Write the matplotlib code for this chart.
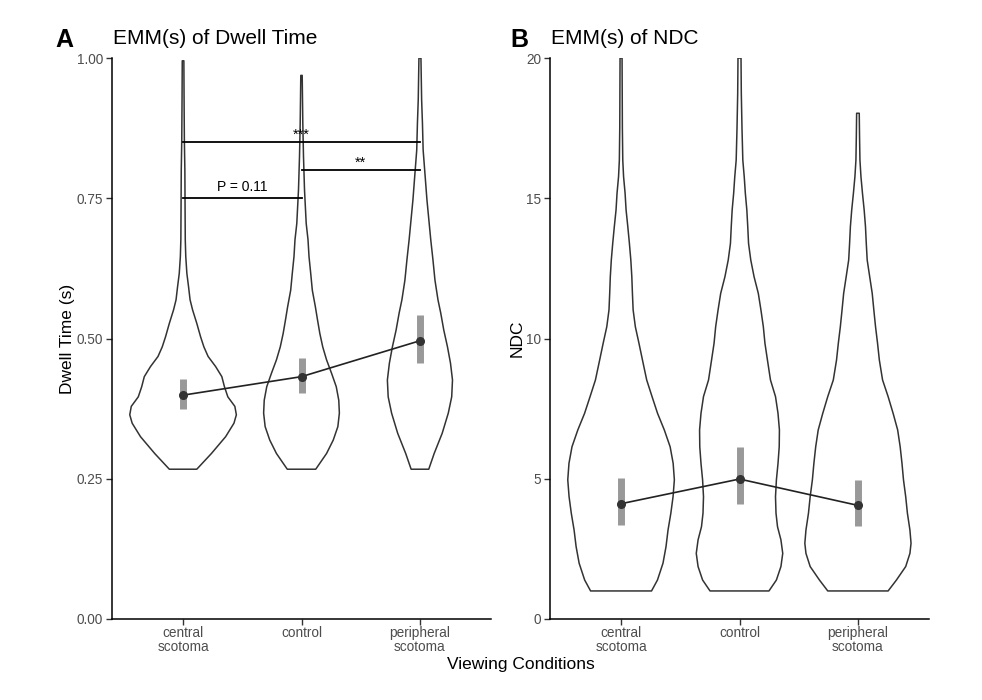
import matplotlib
matplotlib.use("Agg")
import matplotlib.pyplot as plt
import numpy as np

plt.rcParams['font.family'] = ['Liberation Sans', 'DejaVu Sans']

# ---------------- data ----------------
categories = ["central\nscotoma", "control", "peripheral\nscotoma"]

# Panel A: Dwell time violin profiles (value levels, relative density)
dwell_central_y = [0.267, 0.295, 0.325, 0.349, 0.364, 0.379, 0.396, 0.414, 0.432, 0.450,
                   0.468, 0.485, 0.503, 0.527, 0.551, 0.569, 0.592, 0.616, 0.646, 0.676,
                   0.735, 0.800, 0.854, 0.930, 0.995]
dwell_central_d = [13.7, 28.3, 42.5, 50.8, 53.2, 51.7, 44.7, 41.3, 38.7, 32.5,
                   25.0, 20.8, 17.5, 13.7, 9.5, 7.0, 5.5, 3.8, 2.7, 2.2,
                   2.0, 1.8, 1.3, 1.0, 0.8]
dwell_control_y = [0.267, 0.295, 0.319, 0.343, 0.367, 0.390, 0.414, 0.438, 0.462, 0.485,
                   0.509, 0.533, 0.557, 0.586, 0.616, 0.646, 0.676, 0.705, 0.765, 0.824,
                   0.884, 0.969]
dwell_control_d = [14.2, 25.0, 31.7, 36.3, 37.8, 37.2, 34.7, 30.0, 25.0, 21.2,
                   18.3, 16.0, 13.8, 10.8, 9.2, 7.5, 6.5, 4.7, 3.0, 2.0,
                   1.3, 0.7]
dwell_periph_y = [0.267, 0.295, 0.331, 0.367, 0.396, 0.426, 0.456, 0.485, 0.515, 0.545,
                  0.569, 0.604, 0.640, 0.676, 0.747, 0.794, 0.836, 0.884, 0.925, 1.000]
dwell_periph_d = [8.8, 14.2, 22.2, 28.3, 31.7, 32.5, 30.5, 27.5, 23.8, 20.8,
                  18.0, 15.0, 13.0, 10.8, 7.0, 5.0, 3.2, 2.5, 1.7, 1.0]

dwell_emm = [0.399, 0.432, 0.496]
dwell_lo = [0.375, 0.402, 0.457]
dwell_hi = [0.428, 0.465, 0.542]

# significance annotations (group i, group j, y, label)
sig_pairs = [(0, 1, 0.75, "P = 0.11"), (0, 2, 0.85, "***"), (1, 2, 0.80, "**")]

# Panel B: NDC violin profiles
ndc_central_y = [1.0, 1.39, 1.99, 2.58, 3.17, 3.77, 4.36, 4.96, 5.55, 6.14,
                 6.74, 7.33, 7.93, 8.52, 9.23, 9.83, 10.42, 11.02, 11.61, 12.2,
                 12.8, 13.39, 13.99, 14.58, 15.18, 15.77, 16.36, 17.5, 20.0]
ndc_central_d = [30.3, 36.2, 41.7, 44.7, 46.7, 49.5, 51.7, 53.0, 51.8, 48.8,
                 43.0, 36.3, 30.8, 25.5, 21.3, 17.8, 14.2, 12.0, 11.3, 10.7,
                 9.7, 8.3, 6.7, 5.0, 4.0, 2.5, 1.7, 1.3, 1.0]
ndc_control_y = [1.0, 1.39, 1.87, 2.34, 2.82, 3.29, 3.77, 4.36, 4.96, 5.55,
                 6.14, 6.74, 7.33, 7.93, 8.52, 9.23, 9.83, 10.42, 11.02, 11.61,
                 12.2, 12.8, 13.39, 13.99, 14.58, 15.18, 15.77, 16.36, 17.46, 18.73, 20.0]
ndc_control_d = [29.3, 36.7, 41.2, 43.0, 41.2, 37.8, 36.3, 35.8, 36.7, 38.3,
                 39.5, 39.7, 38.3, 35.8, 30.8, 27.8, 25.3, 23.7, 21.3, 18.7,
                 14.5, 11.2, 9.0, 8.2, 7.3, 5.8, 4.7, 3.3, 2.5, 1.8, 1.5]
ndc_periph_y = [1.0, 1.39, 1.87, 2.34, 2.70, 3.17, 3.77, 4.36, 4.96, 5.55,
                6.14, 6.74, 7.33, 7.93, 8.52, 9.23, 9.83, 10.42, 11.02, 11.61,
                12.2, 12.8, 13.39, 13.99, 14.58, 15.18, 15.77, 16.36, 17.2, 18.03]
ndc_periph_d = [30.0, 38.3, 47.5, 51.7, 52.8, 51.7, 49.2, 47.5, 45.3, 43.8,
                42.0, 39.5, 35.0, 30.0, 24.5, 21.3, 19.5, 17.5, 15.8, 14.2,
                11.7, 9.2, 8.3, 7.5, 6.2, 4.5, 3.0, 2.0, 1.6, 1.3]

ndc_emm = [4.11, 4.99, 4.05]
ndc_lo = [3.36, 4.09, 3.30]
ndc_hi = [5.04, 6.13, 4.96]

# ---------------- drawing ----------------
W, H = 982, 700
fig = plt.figure(figsize=(W / 100, H / 100), dpi=100)

def make_ax(l, r, t, b):
    return fig.add_axes([l / W, 1 - b / H, (r - l) / W, (b - t) / H])

axA = make_ax(112, 491, 58, 619)
axB = make_ax(550, 929, 58, 619)

dark = "#333333"
tick_col = "#4d4d4d"


def violin(ax, pos, ys, ds, scale):
    ys = np.asarray(ys, float)
    hw = np.asarray(ds, float) * scale
    xs = np.concatenate([pos - hw, (pos + hw)[::-1]])
    yy = np.concatenate([ys, ys[::-1]])
    ax.fill(xs, yy, facecolor="white", edgecolor=dark, linewidth=1.1, zorder=1,
            joinstyle="round")


def emm_layer(ax, emm, lo, hi):
    xs = np.arange(1, len(emm) + 1)
    ax.vlines(xs, lo, hi, color="#999999", linewidth=5, zorder=3)
    ax.plot(xs, emm, color="#222222", linewidth=1.2, zorder=4)
    ax.plot(xs, emm, "o", color=dark, markersize=5.5, zorder=5)


def style(ax, ylim, ticks, ticklabels):
    ax.set_xlim(0.4, 3.6)
    ax.set_ylim(*ylim)
    ax.set_xticks([1, 2, 3])
    ax.set_xticklabels(categories, fontsize=9.8, color=tick_col, linespacing=1.0)
    ax.set_yticks(ticks)
    ax.set_yticklabels(ticklabels, fontsize=9.8, color=tick_col)
    for s in ["top", "right"]:
        ax.spines[s].set_visible(False)
    for s in ["left", "bottom"]:
        ax.spines[s].set_color("black")
        ax.spines[s].set_linewidth(1.1)
    ax.tick_params(length=4, width=1.0, color=dark, pad=2.5)
    ax.tick_params(axis="x", pad=1.2)


# Panel A
all_maxA = max(max(dwell_central_d), max(dwell_control_d), max(dwell_periph_d))
scA = 0.45 / all_maxA
for pos, ys, ds in [(1, dwell_central_y, dwell_central_d),
                    (2, dwell_control_y, dwell_control_d),
                    (3, dwell_periph_y, dwell_periph_d)]:
    violin(axA, pos, ys, ds, scA)
emm_layer(axA, dwell_emm, dwell_lo, dwell_hi)
for i, j, y, lab in sig_pairs:
    axA.plot([i + 1, j + 1], [y, y], color="black", linewidth=1.3, zorder=6)
    if "*" in lab:
        axA.text((i + j) / 2 + 1, y + 0.013, lab, ha="center", va="center",
                 fontsize=10.5, color="black", zorder=7)
    else:
        axA.text((i + j) / 2 + 1, y + 0.008, lab, ha="center", va="bottom",
                 fontsize=10, color="black", zorder=7)
style(axA, (0, 1), [0, 0.25, 0.5, 0.75, 1.0], ["0.00", "0.25", "0.50", "0.75", "1.00"])
axA.set_ylabel("Dwell Time (s)", fontsize=12.5, labelpad=1)

# Panel B
all_maxB = max(max(ndc_central_d), max(ndc_control_d), max(ndc_periph_d))
scB = 0.45 / all_maxB
for pos, ys, ds in [(1, ndc_central_y, ndc_central_d),
                    (2, ndc_control_y, ndc_control_d),
                    (3, ndc_periph_y, ndc_periph_d)]:
    violin(axB, pos, ys, ds, scB)
emm_layer(axB, ndc_emm, ndc_lo, ndc_hi)
style(axB, (0, 20), [0, 5, 10, 15, 20], ["0", "5", "10", "15", "20"])
axB.set_ylabel("NDC", fontsize=12.5, labelpad=1)

# titles and panel tags
fig.text(113 / W, 1 - 38 / H, "EMM(s) of Dwell Time", fontsize=15, va="center", ha="left")
fig.text(551 / W, 1 - 38 / H, "EMM(s) of NDC", fontsize=15, va="center", ha="left")
fig.text(55 / W, 1 - 40 / H, "A", fontsize=18, fontweight="bold", va="center", ha="left")
fig.text(510 / W, 1 - 40 / H, "B", fontsize=18, fontweight="bold", va="center", ha="left")
fig.text(521 / W, 1 - 664 / H, "Viewing Conditions", fontsize=12.5, va="center", ha="center")

fig.savefig("out.png", dpi=100, facecolor="white")
